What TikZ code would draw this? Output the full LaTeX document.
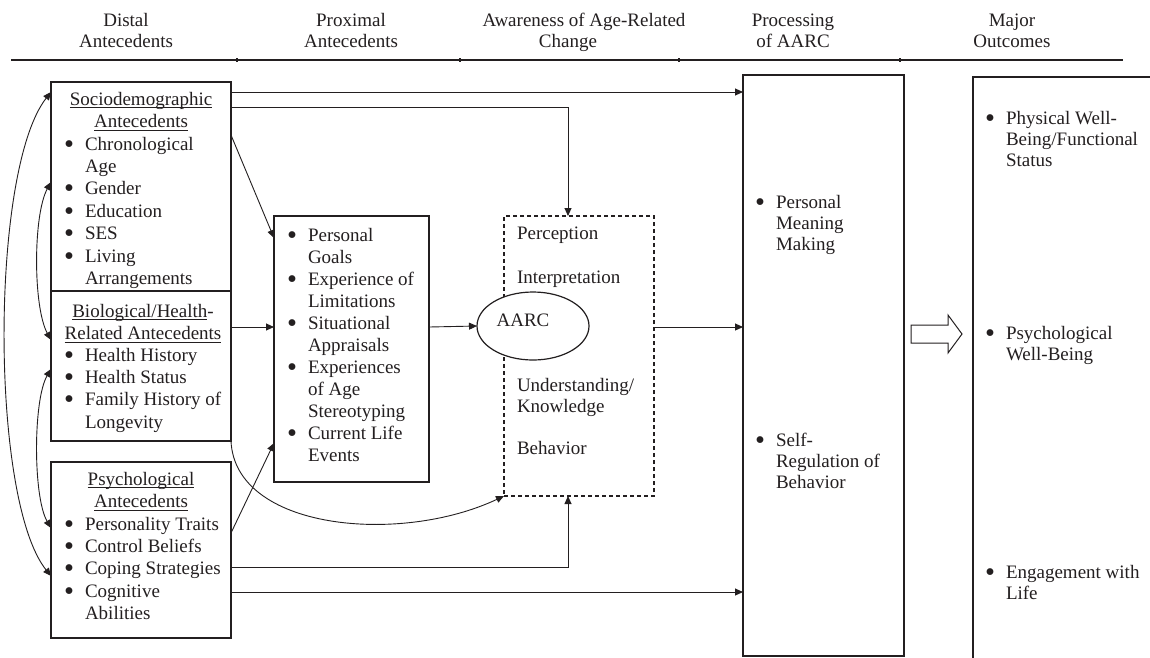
\documentclass[tikz,border=0pt]{standalone}
\usepackage{fontspec}
\setmainfont{Liberation Serif}
\usetikzlibrary{arrows.meta,shapes.geometric}
\definecolor{ink}{RGB}{35,31,32}
\newcommand\bl{\makebox[20pt][l]{\hspace*{-0.8pt}\raisebox{-3pt}[0pt][0pt]{\scalebox{1.5}{\textbullet}}}}
\newcommand\ib{\hspace*{20pt}}
\newcommand\myul[1]{\leavevmode\setbox0\hbox{#1}\rlap{\rule[-3pt]{\wd0}{0.9pt}}\box0}
\begin{document}
\begin{tikzpicture}[x=1pt,y=-1pt,
  every node/.style={font=\fontsize{19}{22.4}\selectfont, text=ink, inner sep=0pt, outer sep=0pt},
  box/.style={draw=ink, line width=1.2pt, anchor=north west},
  txt/.style={align=left, anchor=base west},
  ttl/.style={align=center, anchor=base},
  hdr/.style={align=center, anchor=base, font=\fontsize{19}{21}\selectfont},
  arr/.style={draw=ink, line width=0.9pt, -{Triangle[length=8pt,width=7pt]}},
  darr/.style={draw=ink, line width=0.9pt, {Triangle[length=8pt,width=7pt]}-{Triangle[length=8pt,width=7pt]}}
]
\useasboundingbox (0,0) rectangle (1150,657);
\fill[white] (0,0) rectangle (1150,657);
\clip (0,0) rectangle (1150,657);

% headers (base anchor = baseline of last line)
\node[hdr] (h1) at (126,47) {Distal\\Antecedents};
\node[hdr] (h2) at (351,47) {Proximal\\Antecedents};
\node[hdr] (h3) at (584,47) {Awareness of Age-Related\\Change\hspace*{32pt}};
\node[hdr] (h4) at (793,47) {Processing\\of AARC};
\node[hdr] (h5) at (1012,47) {Major\\Outcomes};
\draw[ink, line width=1.7pt] (11,60) -- (1123,60);
\foreach \tx in {237,460,679,900} { \fill[ink] (\tx-1,58) rectangle (\tx+1,62); }

% boxes
\node[box, minimum width=180, minimum height=209] (socio) at (51,82) {};
\node[box, minimum width=180, minimum height=150] (bio) at (51,291) {};
\node[box, minimum width=180, minimum height=176] (psych) at (51,462) {};
\node[box, minimum width=155, minimum height=266] (prox) at (274,216) {};
\node[box, dash pattern=on 4pt off 3pt, minimum width=150, minimum height=280] (dash) at (504,216) {};
\node[draw=ink, line width=1.2pt, ellipse, fill=white, minimum width=112, minimum height=68] (aarc) at (533,326) {};
\node[box, minimum width=161, minimum height=581] (proc) at (743,75) {};
\node[box, minimum width=220, minimum height=620] (outc) at (973,77) {};

% texts
\node[ttl] (socioT) at (141,127.4) {\myul{Sociodemographic}\\\myul{Antecedents}};
\node[txt] (socioL) at (65,284.4) {\bl Chronological\\\ib Age\\\bl Gender\\\bl Education\\\bl SES\\\bl Living\\\ib Arrangements};
\node[ttl] (bioT) at (143,339.4) {\myul{Biological/Health}-\\\myul{Related Antecedents}};
\node[txt] (bioL) at (65,428.2) {\bl Health History\\\bl Health Status\\\bl Family History of\\\ib Longevity};
\node[ttl] (psychT) at (141,507.4) {\myul{Psychological}\\\myul{Antecedents}};
\node[txt] (psychL) at (65,619.6) {\bl Personality Traits\\\bl Control Beliefs\\\bl Coping Strategies\\\bl Cognitive\\\ib Abilities};
\node[txt, font=\fontsize{19}{22}\selectfont] (proxL) at (288,461) {\bl Personal\\\ib Goals\\\bl Experience of\\\ib Limitations\\\bl Situational\\\ib Appraisals\\\bl Experiences\\\ib of Age\\\ib Stereotyping\\\bl Current Life\\\ib Events};
\node[txt] (perc) at (517,239) {Perception};
\node[txt] (interp) at (517,283) {Interpretation};
\node[txt, font=\fontsize{19}{21}\selectfont] (under) at (517,412) {Understanding/\\Knowledge};
\node[txt] (behav) at (517,454) {Behavior};
\node[ttl] (aarcT) at (523,326) {AARC};
\node[txt, font=\fontsize{19}{21}\selectfont] (procA) at (756,250) {\bl Personal\\\ib Meaning\\\ib Making};
\node[txt, font=\fontsize{19}{21}\selectfont] (procB) at (756,488) {\bl Self-\\\ib Regulation of\\\ib Behavior};
\node[txt, font=\fontsize{19}{21}\selectfont] (outA) at (986,166) {\bl Physical Well-\\\ib Being/Functional\\\ib Status};
\node[txt, font=\fontsize{19}{21}\selectfont] (outB) at (986,360) {\bl Psychological\\\ib Well-Being};
\node[txt, font=\fontsize{19}{21}\selectfont] (outC) at (986,599) {\bl Engagement with\\\ib Life};

% helper coordinates
\coordinate (y92) at (0,92);
\coordinate (k1) at (568,107);
\coordinate (y135) at (0,135);
\coordinate (y238) at (0,238);
\coordinate (y327) at (0,327);
\coordinate (y533) at (0,533);
\coordinate (y443) at (0,443);
\coordinate (k2) at (568,567);
\coordinate (y592) at (0,592);
\coordinate (y182) at (0,182);
\coordinate (y340) at (0,340);
\coordinate (y369) at (0,369);
\coordinate (y528) at (0,528);
\coordinate (y576) at (0,576);

% connectors
\draw[arr] (socio.east |- y92) -- (proc.west |- y92);
\draw[arr] (socio.east |- k1) -| (dash.north -| k1);
\draw[arr] (socio.east |- y135) -- (prox.west |- y238);
\draw[arr] (bio.east |- y327) -- (prox.west |- y327);
\draw[arr] (prox.east |- y327) -- (aarc.west);
\draw[arr] (dash.east |- y327) -- (proc.west |- y327);
\draw[arr] (psych.east |- y533) -- (prox.west |- y443);
\draw[arr] (bio.south east) .. controls (235,530) and (400,545) .. (dash.south west);
\draw[arr] (psych.east |- k2) -| (dash.south -| k2);
\draw[arr] (psych.east |- y592) -- (proc.west |- y592);
\draw[darr] (socio.west |- y92) .. controls (-10,170) and (-10,500) .. (psych.west |- y576);
\draw[darr] (socio.west |- y182) .. controls (33,215) and (33,307) .. (bio.west |- y340);
\draw[darr] (bio.west |- y369) .. controls (33,400) and (33,497) .. (psych.west |- y528);

% block arrow
\draw[ink, line width=1pt, fill=white] (911,325) -- (948,325) -- (948,315) -- (962,334) -- (948,353) -- (948,343) -- (911,343) -- cycle;
\end{tikzpicture}
\end{document}
